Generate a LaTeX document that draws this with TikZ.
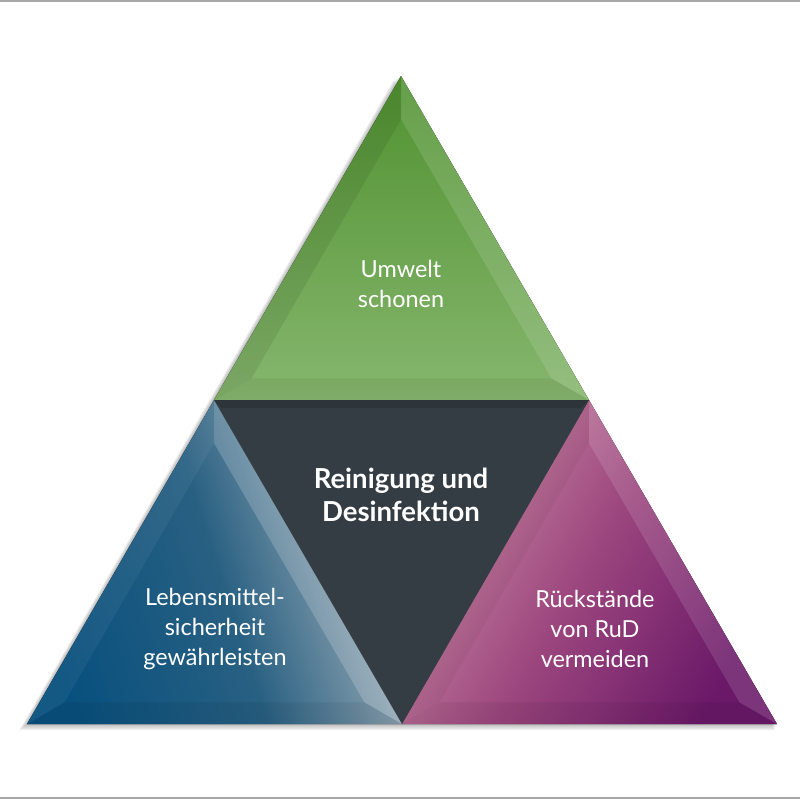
\documentclass[tikz,border=0pt]{standalone}
\usepackage{fontspec}
\setmainfont{Lato}
\usepackage{tikz}
\usetikzlibrary{calc}
\definecolor{greentop}{RGB}{80,146,48}
\definecolor{greenbot}{RGB}{134,182,110}
\definecolor{darkmid}{RGB}{52,61,68}
\definecolor{bluedark}{RGB}{8,80,126}
\definecolor{bluemid}{RGB}{40,96,130}
\definecolor{bluelight}{RGB}{176,185,192}
\definecolor{pinklight}{RGB}{204,140,166}
\definecolor{pinkmid}{RGB}{156,70,126}
\definecolor{purpledark}{RGB}{106,24,104}
\definecolor{rulegray}{RGB}{168,168,168}

\tikzset{
  facetdark/.style={fill=black,fill opacity=#1},
  facetlight/.style={fill=white,fill opacity=#1},
  label/.style={text=white,align=center,font=\fontsize{20}{25.6}\selectfont},
  centerlabel/.style={text=white,align=center,font=\bfseries\fontsize{23.5}{28.5}\selectfont}
}

\begin{document}
\begin{tikzpicture}[x=0.03cm,y=-0.03cm]
\useasboundingbox (0,0) rectangle (800,800);
\fill[white] (0,0) rectangle (800,800);
\draw[rulegray,line width=1.5pt] (0,1) -- (800,1);
\draw[rulegray,line width=1.5pt] (0,798) -- (800,798);

% corners of the big triangle and the midpoints
\coordinate (top) at (401,76);
\coordinate (bl) at (27,724);
\coordinate (br) at (777,724);
\coordinate (ml) at ($(top)!0.5!(bl)$);
\coordinate (mr) at ($(top)!0.5!(br)$);
\coordinate (mb) at ($(bl)!0.5!(br)$);

% soft shadow
\foreach \i in {1,...,8}{
  \fill[black,opacity=0.035] ($(top)+(-\i,\i*0.6)$) -- ($(bl)+(-\i,\i*0.8)$) -- ($(br)+(-\i*0.3,\i*0.8)$) -- cycle;
}

% the four triangles
\fill[top color=greentop,bottom color=greenbot] (top) -- (ml) -- (mr) -- cycle;
\fill[left color=bluedark,right color=bluelight,middle color=bluemid,shading angle=108] (ml) -- (bl) -- (mb) -- cycle;
\fill[left color=pinklight,right color=purpledark,middle color=pinkmid,shading angle=60] (mr) -- (mb) -- (br) -- cycle;
\fill[darkmid] (ml) -- (mr) -- (mb) -- cycle;
\fill[black,opacity=0.12] (ml) -- (mr) -- ($(mr)+(-8,8)$) -- ($(ml)+(8,8)$) -- cycle;

% bevel: inner corners
\foreach \a/\b/\c/\n in {top/ml/mr/g,ml/bl/mb/l,mr/mb/br/r}{
  \coordinate (\n0) at ($0.3333*(\a)+0.3333*(\b)+0.3333*(\c)$);
  \coordinate (\n1) at ($(\n0)!0.8!(\a)$);
  \coordinate (\n2) at ($(\n0)!0.8!(\b)$);
  \coordinate (\n3) at ($(\n0)!0.8!(\c)$);
}
% green
\fill[facetdark=0.08] (top) -- (ml) -- (g2) -- (g1) -- cycle;
\fill[facetlight=0.12] (top) -- (mr) -- (g3) -- (g1) -- cycle;
\fill[facetdark=0.05] (ml) -- (mr) -- (g3) -- (g2) -- cycle;
% blue
\fill[facetlight=0.05] (ml) -- (bl) -- (l2) -- (l1) -- cycle;
\fill[facetlight=0.18] (ml) -- (mb) -- (l3) -- (l1) -- cycle;
\fill[facetdark=0.06] (bl) -- (mb) -- (l3) -- (l2) -- cycle;
% purple
\fill[facetdark=0.04] (mr) -- (mb) -- (r2) -- (r1) -- cycle;
\fill[facetlight=0.12] (mr) -- (br) -- (r3) -- (r1) -- cycle;
\fill[facetdark=0.06] (mb) -- (br) -- (r3) -- (r2) -- cycle;

% labels
\node[label] (umwelt) at (401,284) {Umwelt\\schonen};
\node[centerlabel] (rud) at (401,495) {Reinigung und\\Desinfektion};
\node[label] (lebens) at (215,629) {Lebensmittel-\\sicherheit\\gewährleisten};
\node[label] (rueck) at (595,629) {Rückstände\\von RuD\\vermeiden};
\end{tikzpicture}
\end{document}
